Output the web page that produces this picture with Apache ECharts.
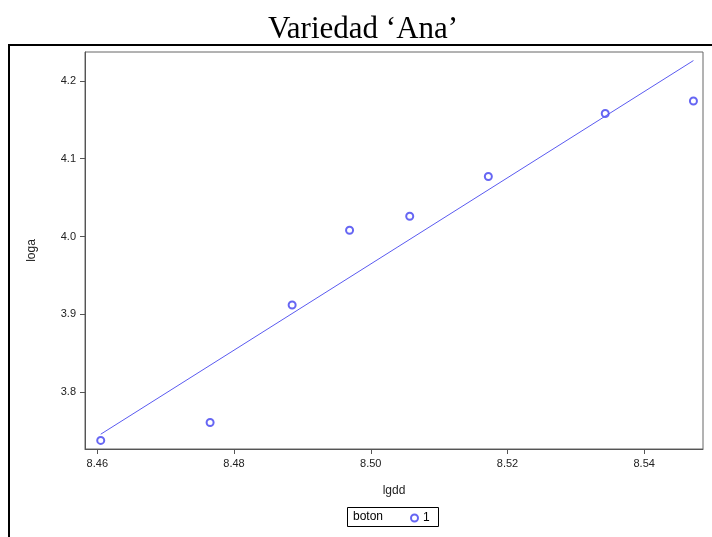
<!DOCTYPE html>
<html><head><meta charset="utf-8">
<script src="https://cdn.jsdelivr.net/npm/echarts@6/dist/echarts.min.js"></script>
<style>html,body{margin:0;padding:0;background:#fff}#c{width:712px;height:537px}</style>
</head><body><div id="c"></div>
<script>
const lgdd = [8.4605, 8.4765, 8.4885, 8.4969, 8.5057, 8.5172, 8.5343, 8.5472];
const loga = [3.738, 3.761, 3.912, 4.008, 4.026, 4.077, 4.158, 4.174];
const fitX = [8.4605, 8.5472];
const fitY = [3.746, 4.226];
const xTicks = [8.46, 8.48, 8.50, 8.52, 8.54];
const yTicks = [3.8, 3.9, 4.0, 4.1, 4.2];

const chart = echarts.init(document.getElementById('c'));
const axFont = {fontFamily: '"Liberation Sans Narrow", "Liberation Sans", Arial, sans-serif', fontSize: 11, color: '#222'};
chart.setOption({
  animation: false,
  title: {text: 'Variedad \u2018Ana\u2019', left: 358, top: 9, textAlign: 'center',
    textStyle: {fontFamily: '"Liberation Serif", "Times New Roman", serif', fontSize: 31, fontWeight: 'normal', color: '#000'}},
  grid: {left: 85, right: 9, top: 52, bottom: 88, show: true, borderColor: '#666', borderWidth: 1},
  xAxis: {type: 'value', min: 8.4582, max: 8.5486, name: 'lgdd', nameLocation: 'middle', nameGap: 36,
    nameTextStyle: Object.assign({}, axFont, {fontSize: 12}),
    axisLine: {lineStyle: {color: '#555'}},
    axisTick: {show: true, length: 5, lineStyle: {color: '#555'}, customValues: xTicks},
    axisLabel: Object.assign({}, axFont, {margin: 9, customValues: xTicks, formatter: v => v.toFixed(2)}),
    splitLine: {show: false}},
  yAxis: {type: 'value', min: 3.727, max: 4.237, name: 'loga', nameLocation: 'middle', nameGap: 47,
    nameTextStyle: Object.assign({}, axFont, {fontSize: 12}),
    axisLine: {show: true, lineStyle: {color: '#555'}},
    axisTick: {show: true, length: 5, lineStyle: {color: '#555'}, customValues: yTicks},
    axisLabel: Object.assign({}, axFont, {margin: 9, customValues: yTicks, formatter: v => v.toFixed(1)}),
    splitLine: {show: false}},
  legend: {show: true, left: 410, top: 512, padding: 0, itemWidth: 7, itemHeight: 7, itemGap: 4,
    textStyle: Object.assign({}, axFont, {fontSize: 12, color: '#000'}),
    data: [{name: '1', icon: 'emptyCircle', itemStyle: {color: '#4040f0', borderColor: '#4040f0', borderWidth: 1.2}}]},
  series: [
    {name: '1', type: 'scatter', symbol: 'emptyCircle', symbolSize: 7,
      itemStyle: {color: '#4040f0', borderColor: '#4040f0', borderWidth: 1.1},
      data: lgdd.map((x, i) => [x, loga[i]])},
    {name: 'fit', type: 'line', symbol: 'none', lineStyle: {color: '#5a5af0', width: 1},
      data: fitX.map((x, i) => [x, fitY[i]])}
  ],
  graphic: [
    {type: 'line', shape: {x1: 8, y1: 45, x2: 712, y2: 45}, style: {stroke: '#000', lineWidth: 2}},
    {type: 'line', shape: {x1: 9, y1: 45, x2: 9, y2: 537}, style: {stroke: '#000', lineWidth: 2}},
    {type: 'rect', shape: {x: 347.5, y: 507.5, width: 91, height: 19}, style: {fill: 'none', stroke: '#000', lineWidth: 1}},
    {type: 'text', left: 353, top: 511, style: {text: 'boton', fill: '#000', font: '12px "Liberation Sans Narrow", "Liberation Sans", Arial, sans-serif'}}
  ]
});
</script></body></html>
